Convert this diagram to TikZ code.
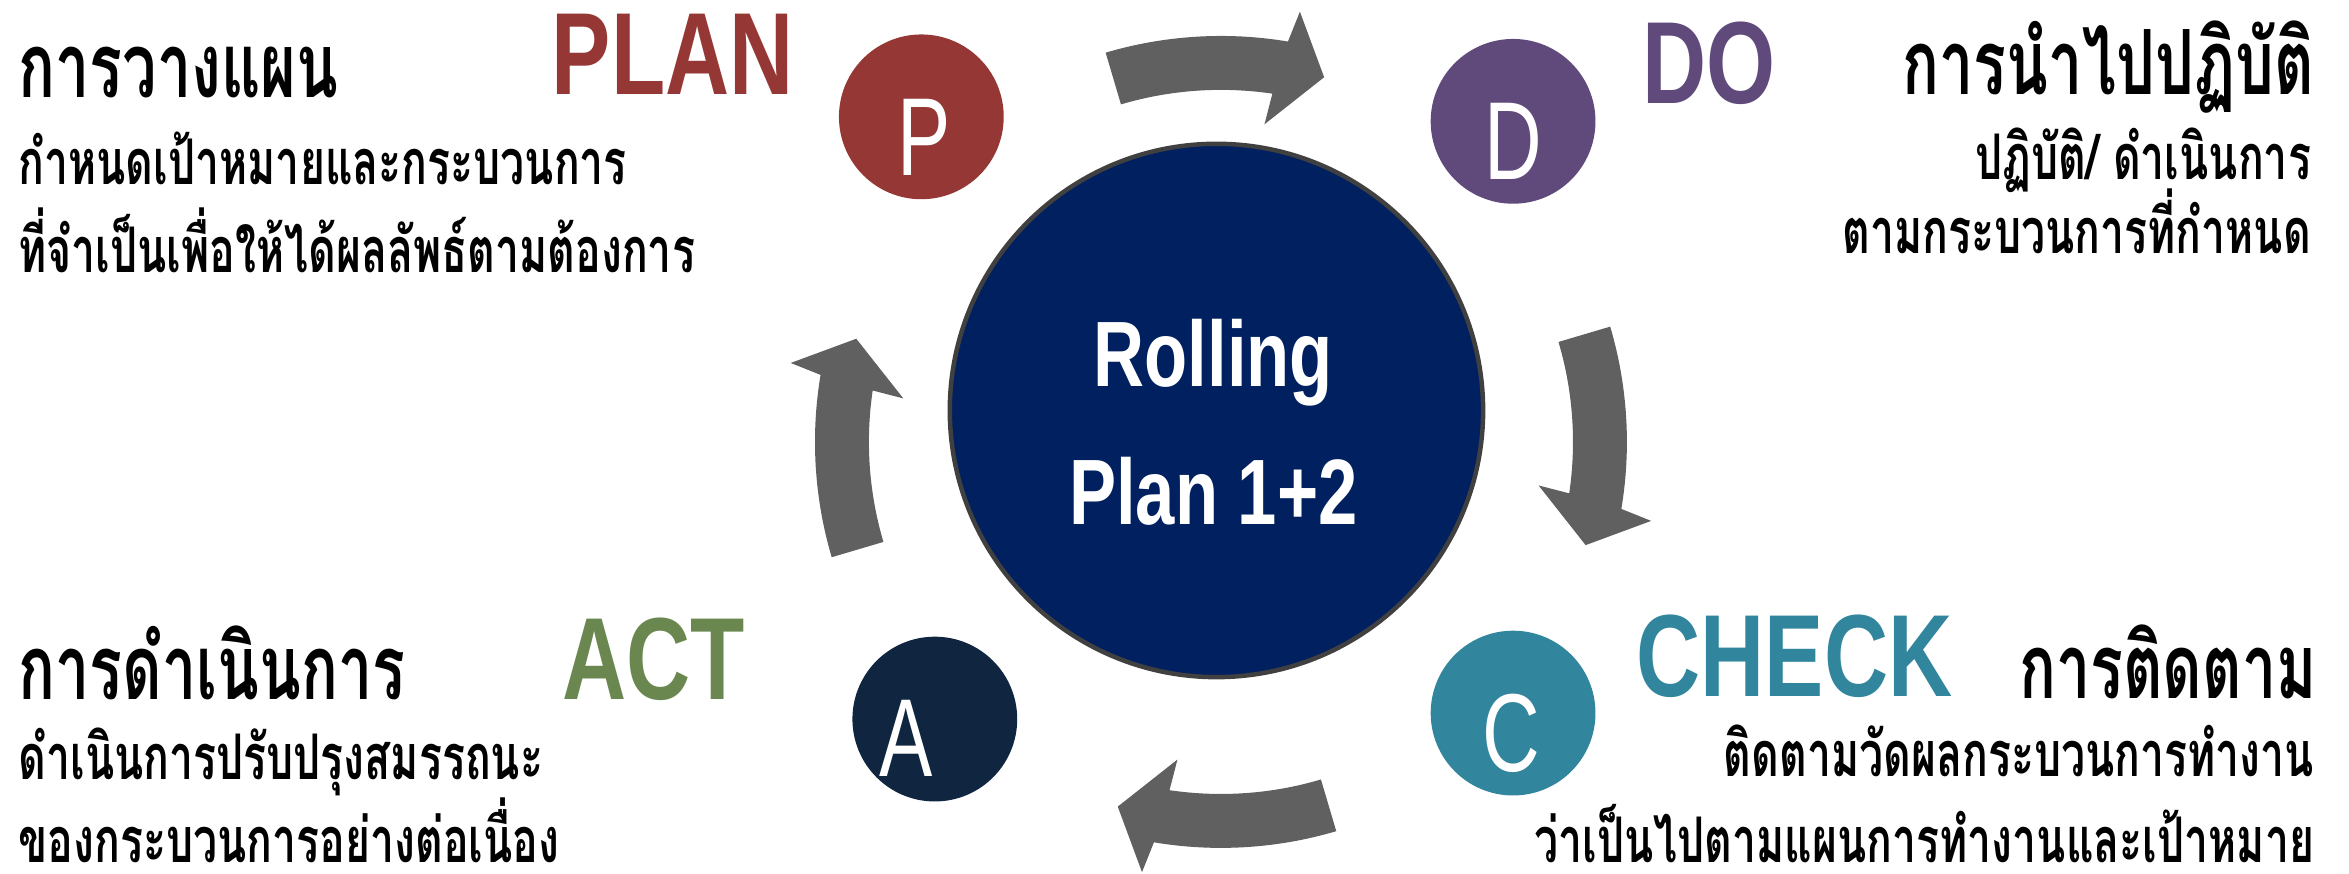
\documentclass[tikz,border=0pt]{standalone}
\usepackage{fontspec}
\setmainfont{Liberation Sans}
\newfontfamily\thaifont[Script=Thai,FakeStretch=0.68]{Loma}
\newfontfamily\headfont[FakeStretch=0.76]{Liberation Sans}
\newfontfamily\letterfont[FakeStretch=0.72]{Liberation Sans}
\usetikzlibrary{calc}

\definecolor{plancol}{HTML}{953735}
\definecolor{docol}{HTML}{604A7B}
\definecolor{checkcol}{HTML}{31859C}
\definecolor{actcol}{HTML}{6A8750}
\definecolor{actcircle}{HTML}{10253F}
\definecolor{hubfill}{HTML}{002060}
\definecolor{hubline}{HTML}{404040}
\definecolor{arrowgray}{HTML}{606060}

\begin{document}
\begin{tikzpicture}[x=0.5pt, y=0.5pt,
    title/.style={font=\thaifont\bfseries\fontsize{30}{30}\selectfont, inner sep=0},
    desc/.style={font=\thaifont\bfseries\fontsize{21}{21}\selectfont, inner sep=0},
    head/.style={font=\headfont\bfseries\fontsize{39}{39}\selectfont, inner sep=0},
    phase/.style={circle, minimum size=55pt, inner sep=0},
    letter/.style={font=\letterfont\fontsize{37}{37}\selectfont, text=white, inner sep=0}]
        \useasboundingbox (0,0) rectangle (1568,583);

        % Curved arrows round the hub
        \coordinate (ring) at (815,288);
        \foreach \a in {90,0,-90,180}{
            \fill[arrowgray] ($(ring)+(\a+16.5:271)$) arc[start angle=\a+16.5, end angle=\a-9.5, radius=271]
                -- ($(ring)+(\a-10.4:292)$) -- ($(ring)+(\a-15.8:253)$) -- ($(ring)+(\a-7.8:214)$)
                -- ($(ring)+(\a-8.4:235)$) arc[start angle=\a-8.4, end angle=\a+16.5, radius=235] -- cycle;
        }

        % Hub
        \node[circle, fill=hubfill, draw=hubline, line width=1.5pt, minimum size=178pt, inner sep=0] (hub) at (812,309) {};
        \node[font=\headfont\bfseries\fontsize{31}{46}\selectfont, text=white, align=center, inner sep=0, anchor=base] (hubtext) at (810,233) {Rolling\\Plan 1+2};

        % Phase circles
        \node[phase, fill=plancol] (p) at (615,505) {};
        \node[phase, fill=docol] (d) at (1010,502) {};
        \node[phase, fill=checkcol] (c) at (1010,107) {};
        \node[phase, fill=actcircle] (a) at (624,103) {};
        \node[letter, anchor=base] (pletter) at ($(p)+(2,-39)$) {P};
        \node[letter, anchor=base] (dletter) at ($(d)+(0,-39)$) {D};
        \node[letter, anchor=base] (cletter) at ($(c)+(-1,-39)$) {C};
        \node[letter, anchor=base] (aletter) at ($(a)+(-19,-38)$) {A};

        % Headings
        \node[head, text=plancol, anchor=base west] (plan) at (368,520) {PLAN};
        \node[head, text=docol, anchor=base west] (do) at (1096,514) {DO};
        \node[head, text=checkcol, anchor=base west] (check) at (1092,118) {CHECK};
        \node[head, text=actcol, anchor=base west] (act) at (375,116) {ACT};

        % Plan text
        \node[title, anchor=base west] (plantitle) at (12,518) {การวางแผน};
        \node[desc, anchor=base west] (planone) at (12,460) {กำหนดเป้าหมายและกระบวนการ};
        \node[desc, anchor=base west] (plantwo) at (12,401) {ที่จำเป็นเพื่อให้ได้ผลลัพธ์ตามต้องการ};

        % Do text
        \node[title, anchor=base east] (dotitle) at (1545,520) {การนำไปปฏิบัติ};
        \node[desc, anchor=base east] (doone) at (1543,463) {ปฏิบัติ/ ดำเนินการ};
        \node[desc, anchor=base east] (dotwo) at (1543,414) {ตามกระบวนการที่กำหนด};

        % Check text
        \node[title, anchor=base east] (checktitle) at (1547,117) {การติดตาม};
        \node[desc, anchor=base east] (checkone) at (1545,65) {ติดตามวัดผลกระบวนการทำงาน};
        \node[desc, anchor=base east, text depth=0pt] (checktwo) at (1545,7) {ว่าเป็นไปตามแผนการทำงานและเป้าหมาย};

        % Act text
        \node[title, anchor=base west] (acttitle) at (12,116) {การดำเนินการ};
        \node[desc, anchor=base west] (actone) at (12,63) {ดำเนินการปรับปรุงสมรรถนะ};
        \node[desc, anchor=base west, text depth=0pt] (acttwo) at (12,7) {ของกระบวนการอย่างต่อเนื่อง};
    \end{tikzpicture}
\end{document}
